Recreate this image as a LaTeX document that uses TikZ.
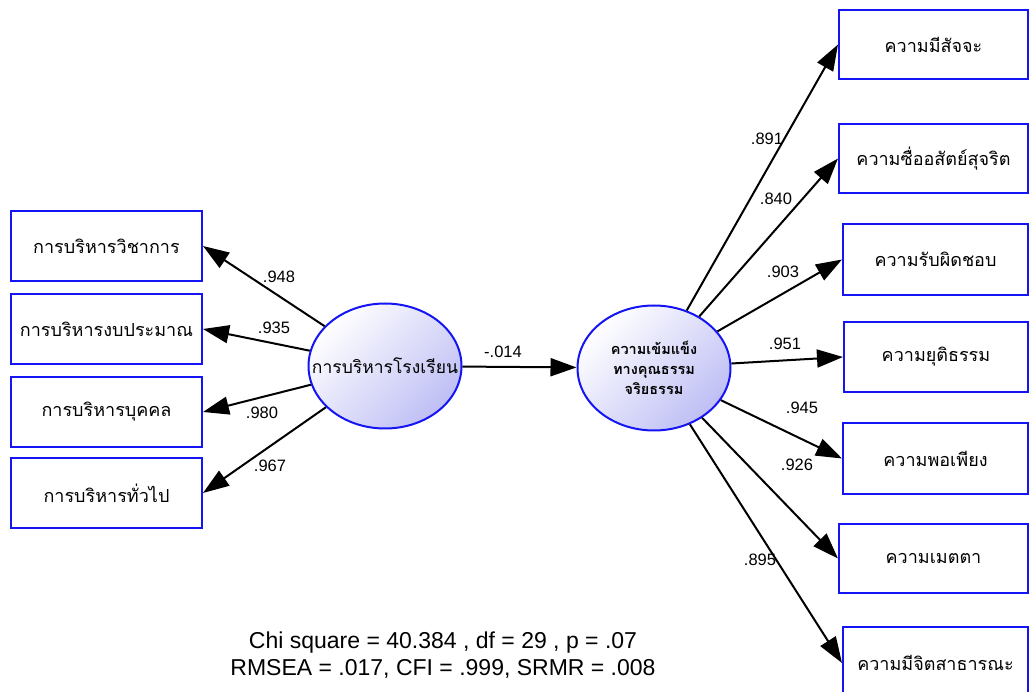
\documentclass[tikz,border=0pt]{standalone}
\usepackage{fontspec}
\setmainfont{Liberation Sans}
\newfontfamily\thaifont[Script=Thai]{Loma}
\usetikzlibrary{arrows.meta,shapes.geometric}
\definecolor{boxblue}{RGB}{20,20,245}
\definecolor{lav}{RGB}{190,190,245}
\tikzset{
  obsbox/.style={draw=boxblue, line width=2pt, fill=white, inner sep=0pt, font=\thaifont\fontsize{18}{21}\selectfont},
  latent/.style={ellipse, draw=boxblue, line width=2pt, top color=white, bottom color=lav, shading angle=45, inner sep=0pt, minimum width=153pt, minimum height=125pt},
  lattext/.style={inner sep=0pt, align=center},
  path/.style={draw=black, line width=2pt, -{Triangle[length=26pt,width=18pt]}},
  coef/.style={font=\fontsize{16.5}{19}\selectfont, inner sep=0pt},
}
\begin{document}
\begin{tikzpicture}[x=1pt,y=-1pt]
\useasboundingbox (0,0) rectangle (1029,692);
% left boxes
\node[obsbox, minimum width=191pt, minimum height=70pt] (a1) at (106.5,246) {การบริหารวิชาการ};
\node[obsbox, minimum width=191pt, minimum height=70pt] (a2) at (106.5,329) {การบริหารงบประมาณ};
\node[obsbox, minimum width=191pt, minimum height=70pt] (a3) at (106.5,412) {การบริหารบุคคล};
\node[obsbox, minimum width=191pt, minimum height=70pt] (a4) at (106.5,493) {การบริหารทั่วไป};
% right boxes
\node[obsbox, minimum width=189pt, minimum height=69pt] (b1) at (933.5,44.5) {ความมีสัจจะ};
\node[obsbox, minimum width=189pt, minimum height=69pt] (b2) at (933.5,158.5) {ความซื่ออสัตย์สุจริต};
\node[obsbox, minimum width=185pt, minimum height=71pt] (b3) at (935.5,259.5) {ความรับผิดชอบ};
\node[obsbox, minimum width=184pt, minimum height=70pt] (b4) at (936,357) {ความยุติธรรม};
\node[obsbox, minimum width=185pt, minimum height=71pt] (b5) at (935.5,458.5) {ความพอเพียง};
\node[obsbox, minimum width=189pt, minimum height=69pt] (b6) at (933.5,558.5) {ความเมตตา};
\node[obsbox, minimum width=185pt, minimum height=72pt] (b7) at (935.5,663) {ความมีจิตสาธารณะ};
% latent
\node[latent] (L) at (385,366) {};
\node[lattext, font=\thaifont\fontsize{17.5}{20}\selectfont] (Lt) at (L.center) {การบริหารโรงเรียน};
\node[latent] (R) at (654,368) {};
\node[lattext, font=\thaifont\bfseries\fontsize{14.5}{20}\selectfont] (Rt) at (R.center) {ความเข้มแข็ง\\ทางคุณธรรม\\จริยธรรม};
% paths
\draw[path] (L) -- (a1.east);
\draw[path] (L) -- (a2.east);
\draw[path] (L) -- (a3.east);
\draw[path] (L) -- (a4.east);
\draw[path] (L) -- (R);
\foreach \b in {b1,b2,b3,b4,b5,b6,b7} \draw[path] (R) -- (\b.west);
% coefficients
\node[coef] (c1) at (279,277) {.948};
\node[coef] (c2) at (274,328) {.935};
\node[coef] (c3) at (262,413) {.980};
\node[coef] (c4) at (270,466) {.967};
\node[coef] (c5) at (503,352) {-.014};
\node[coef] (d1) at (767,139) {.891};
\node[coef] (d2) at (776,199) {.840};
\node[coef] (d3) at (783,272) {.903};
\node[coef] (d4) at (785,344) {.951};
\node[coef] (d5) at (802,408) {.945};
\node[coef] (d6) at (797,465) {.926};
\node[coef] (d7) at (760,560) {.895};
% fit
\node[font=\fontsize{23}{27}\selectfont, align=center, inner sep=0pt] (fit) at (443,655) {Chi square = 40.384 , df = 29 , p = .07\\RMSEA = .017, CFI = .999, SRMR = .008};
\end{tikzpicture}
\end{document}
